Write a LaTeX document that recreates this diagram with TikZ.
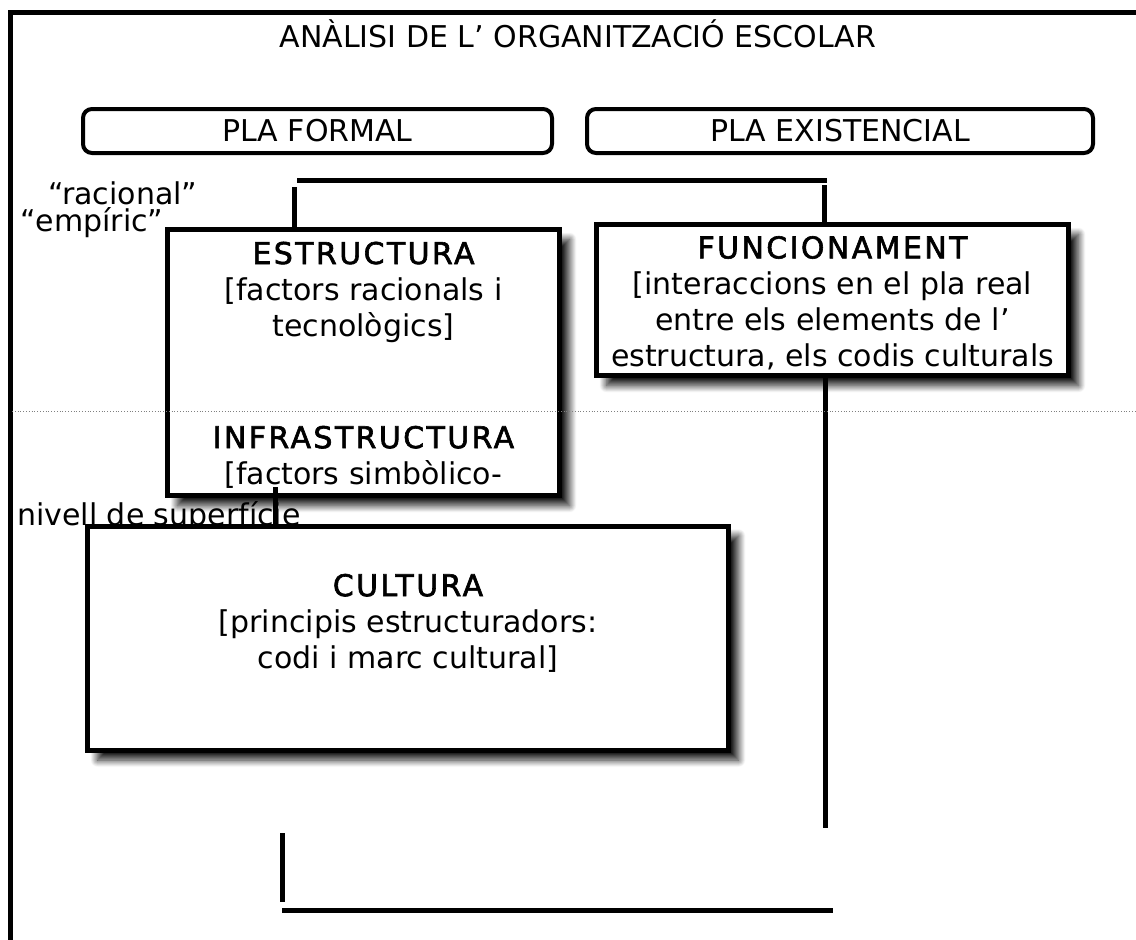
\documentclass[tikz,border=0pt]{standalone}
\usepackage{fontspec}
\setmainfont{DejaVu Sans}
\newfontfamily\capfont[LetterSpace=8,FakeBold=2]{DejaVu Sans}
\usetikzlibrary{positioning,calc,shadows.blur}

\tikzset{
  lletra/.style={font=\fontsize{30}{36}\selectfont},
  plabox/.style={draw,line width=4pt,rounded corners=9pt,minimum height=44pt,lletra},
  ombrabox/.style={draw,line width=5pt,fill=white,
    blur shadow={shadow xshift=10pt,shadow yshift=-10pt,shadow blur radius=7pt,
      shadow opacity=90,shadow blur steps=14}},
  textbloc/.style={lletra,align=center,inner sep=0pt},
  etiq/.style={lletra,anchor=base west,inner sep=0pt},
  linia/.style={line width=5pt}
}

\begin{document}
\begin{tikzpicture}[x=1pt,y=-1pt,line join=miter]
      \useasboundingbox (0,0) rectangle (1136,940);

      \draw[linia] (10,940) -- (10,12.5) -- (1136,12.5);
      \node[lletra,anchor=base,inner sep=0pt] (titol) at (578,47) {ANÀLISI DE L’ ORGANITZACIÓ ESCOLAR};

      \node[plabox,minimum width=469pt] (formal) at (317.5,131) {PLA FORMAL};
      \node[plabox,minimum width=506pt] (existencial) at (840,131) {PLA EXISTENCIAL};

      \node[etiq] (racional) at (48,204) {“racional”};
      \node[etiq] (empiric) at (20,231) {“empíric”};

      \node[ombrabox,minimum width=392pt,minimum height=266pt] (estructura) at (363.5,362.5) {};
      \node[ombrabox,minimum width=472pt,minimum height=151pt] (funcionament) at (832.5,300) {};

      \node[textbloc] (estrtxt) at (363.5,292) {{\capfont ESTRUCTURA}\\{[}factors racionals i\\tecnològics]};
      \node[textbloc] (infratxt) at (363.5,457) {{\capfont INFRASTRUCTURA}\\{[}factors simbòlico-};
      \node[textbloc] (functxt) at (832.5,303) {{\capfont FUNCIONAMENT}\\{[}interaccions en el pla real\\entre els elements de l’\\estructura, els codis culturals};

      \node[etiq] (superficie) at (17,525) {nivell de superfície};

      \node[ombrabox,minimum width=641pt,minimum height=224pt] (cultura) at (408,638) {};
      \node[textbloc] (culttxt) at (408,623) {{\capfont CULTURA}\\{[}principis estructuradors:\\codi i marc cultural]};

      \coordinate (clauesq) at (294,187);
      \coordinate (clauda) at (297,180);
      \coordinate (claudb) at (827,180);
      \coordinate (claudre) at (824.5,185);
      \coordinate (estrbaix) at (275.5,487);
      \coordinate (funcbaix) at (825.5,828);
      \coordinate (peua) at (282.5,833);
      \coordinate (peub) at (282.5,902);
      \coordinate (peuc) at (282,910.5);
      \coordinate (peud) at (833,910.5);

      \draw[linia] (clauda) -- (claudb);
      \draw[linia] (clauesq) -- (clauesq |- estructura.north);
      \draw[linia] (claudre) -- (claudre |- funcionament.north);
      \draw[linia] (estrbaix) -- (estrbaix |- cultura.north);
      \draw[linia] (funcbaix |- funcionament.south) -- (funcbaix);
      \draw[linia] (peua) -- (peub);
      \draw[linia] (peuc) -- (peud);

      \draw[gray,line width=0.8pt,dotted] (12,411.5) -- (1136,411.5);

  \end{tikzpicture}
\end{document}
